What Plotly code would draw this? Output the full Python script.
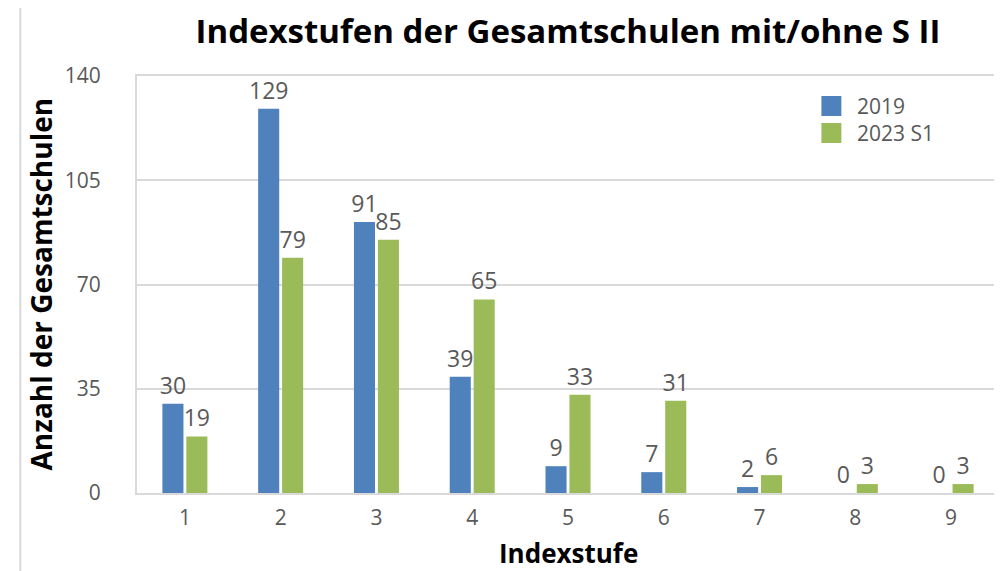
import plotly.graph_objects as go

categories = ["1", "2", "3", "4", "5", "6", "7", "8", "9"]
values_2019 = [30, 129, 91, 39, 9, 7, 2, 0, 0]
values_2023 = [19, 79, 85, 65, 33, 31, 6, 3, 3]
series_names = ["2019", "2023 S1"]
series_colors = ["#4F81BD", "#9BBB59"]
y_ticks = [0, 35, 70, 105, 140]

FONT = "Open Sans"
GRAY = "#595959"
# page body has an 8px margin; figure is sized/offset to compensate
W, H = 994, 563
ML, MR, MT, MB = 129, 1, 68, 78
PW, PH = W - ML - MR, H - MT - MB


def px_x(px):
    return (px - ML) / PW


def px_y(py):
    return (H - MB - py) / PH


fig = go.Figure()
for name, vals, col in zip(series_names, [values_2019, values_2023], series_colors):
    fig.add_trace(go.Bar(x=categories, y=vals, name=name,
                         marker=dict(color=col, line=dict(width=0)),
                         text=vals, textposition="outside", constraintext="none",
                         textfont=dict(size=23, color=GRAY, family=FONT), cliponaxis=False))

fig.update_layout(
    width=W, height=H,
    margin=dict(l=ML, r=MR, t=MT, b=MB),
    paper_bgcolor="white", plot_bgcolor="white",
    barmode="group", bargap=0.5, bargroupgap=0.12,
    font=dict(family=FONT, color=GRAY, size=18),
    title=dict(text="<b>Indexstufen der Gesamtschulen mit/ohne S II</b>",
               font=dict(size=33, color="black", family=FONT),
               x=(568 - 8) / W, xanchor="center", y=1 - 23 / H, yanchor="middle"),
    showlegend=False,
)
fig.update_xaxes(type="category", showgrid=False, showline=True, linecolor="#d9d9d9",
                 linewidth=2, mirror=True, ticks="", ticklabelstandoff=5,
                 tickfont=dict(size=21, color=GRAY))
fig.update_yaxes(range=[0, 140], tickvals=y_ticks, showgrid=True, gridcolor="#d9d9d9",
                 gridwidth=2, showline=True, linecolor="#d9d9d9", linewidth=2, mirror=True,
                 zeroline=False, ticks="", ticklabelstandoff=30,
                 tickfont=dict(size=21, color=GRAY))

fig.add_annotation(text="<b>Anzahl der Gesamtschulen</b>", xref="paper", yref="paper",
                   x=0, y=0.5, xshift=-97, textangle=-90, showarrow=False,
                   font=dict(size=28, color="black", family=FONT), xanchor="center", yanchor="middle")
fig.add_annotation(text="<b>Indexstufe</b>", xref="paper", yref="paper",
                   x=0.5, y=0, yshift=-60, showarrow=False,
                   font=dict(size=26, color="black", family=FONT), xanchor="center", yanchor="middle")

# custom legend (bigger swatches like the reference)
for i, (name, col) in enumerate(zip(series_names, series_colors)):
    cy = 98 + 27 * i
    fig.add_shape(type="rect", xref="paper", yref="paper",
                  x0=px_x(815), x1=px_x(835), y0=px_y(cy + 10), y1=px_y(cy - 10),
                  fillcolor=col, line=dict(width=0))
    fig.add_annotation(text=name, xref="paper", yref="paper", x=px_x(849), y=px_y(cy),
                       xanchor="left", yanchor="middle", showarrow=False,
                       font=dict(size=21, color=GRAY, family=FONT))

# outer chart frame
fig.add_shape(type="line", xref="paper", yref="paper", x0=px_x(12), x1=px_x(12),
              y0=-0.3, y1=1.3, line=dict(color="#d9d9d9", width=2))
fig.add_shape(type="line", xref="paper", yref="paper", x0=-0.3, x1=1.2,
              y0=px_y(-3), y1=px_y(-3), line=dict(color="#d9d9d9", width=2))

fig.write_html("out.html")
